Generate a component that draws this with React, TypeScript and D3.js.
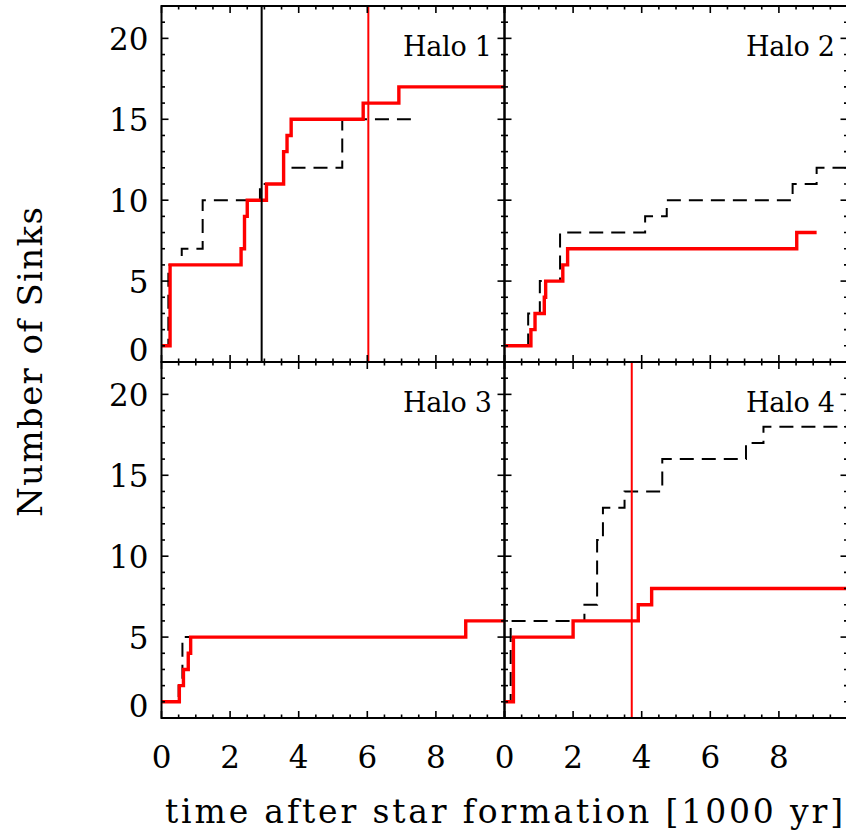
import * as d3 from 'd3';

// step data: [time in 1000 yr, number of sinks]
type Step = [number, number];

const xMajorTicks = [0, 2, 4, 6, 8, 10];
const xTickLabels = [0, 2, 4, 6, 8];
const yMajorTicks = [0, 5, 10, 15, 20];
const yTickLabels = [0, 5, 10, 15, 20];

const halo1Red: Step[] = [[0, 1], [0.25, 6], [2.32, 7], [2.42, 9], [2.5, 10], [3.06, 11], [3.56, 13], [3.66, 14], [3.78, 15], [5.88, 16], [6.92, 17], [10, 17]];
const halo1Black: Step[] = [[0, 1], [0.2, 6], [0.59, 7], [1.2, 10], [2.87, 11], [3.55, 12], [5.27, 15], [7.27, 15]];
const halo2Red: Step[] = [[0, 1], [0.77, 2], [0.89, 3], [1.16, 4], [1.2, 5], [1.7, 6], [1.84, 7], [8.52, 8], [9.1, 8]];
const halo2Black: Step[] = [[0, 1], [0.69, 3], [1.03, 5], [1.62, 8], [4.1, 9], [4.73, 10], [8.4, 11], [9.1, 12], [10, 12]];
const halo3Red: Step[] = [[0, 1], [0.52, 2], [0.64, 3], [0.78, 4], [0.85, 5], [8.87, 6], [10, 6]];
const halo3Black: Step[] = [[0, 1], [0.5, 2], [0.61, 5], [8.87, 6], [10, 6]];
const halo4Red: Step[] = [[0, 1], [0.26, 5], [2.0, 6], [3.9, 7], [4.29, 8], [10, 8]];
const halo4Black: Step[] = [[0, 1], [0.18, 6], [2.33, 7], [2.7, 11], [2.87, 13], [3.5, 14], [4.6, 16], [7.04, 17], [7.55, 18], [10, 18]];

// vertical marker lines (time)
const halo1BlackMarks = [2.92];
const halo1RedMarks = [6.03];
const halo4RedMarks = [3.71];

const halos = [
  { name: 'Halo 1', col: 0, row: 0, red: halo1Red, black: halo1Black, blackMarks: halo1BlackMarks, redMarks: halo1RedMarks },
  { name: 'Halo 2', col: 1, row: 0, red: halo2Red, black: halo2Black, blackMarks: [], redMarks: [] },
  { name: 'Halo 3', col: 0, row: 1, red: halo3Red, black: halo3Black, blackMarks: [], redMarks: [] },
  { name: 'Halo 4', col: 1, row: 1, red: halo4Red, black: halo4Black, blackMarks: [], redMarks: halo4RedMarks },
];

const W = 846;
const H = 832;
const colX = [161.5, 504.5, 847.5];
const rowY = [6, 362, 718];
const FONT = '"DejaVu Serif", "Liberation Serif", serif';

function Panel({ halo }: { halo: typeof halos[0] }) {
  const x0 = colX[halo.col];
  const x1 = colX[halo.col + 1];
  const y0 = rowY[halo.row];
  const y1 = rowY[halo.row + 1];
  const x = d3.scaleLinear().domain([0, 10]).range([x0, x1]);
  const y = d3.scaleLinear().domain([0, 22]).range([y1, y0]);
  const line = d3.line<Step>().x((d) => x(d[0])).y((d) => y(d[1])).curve(d3.curveStepAfter);

  const xMinor = d3.range(0, 10.001, 0.5).filter((v) => !xMajorTicks.includes(v));
  const yMinor = d3.range(0, 22.001, 1).filter((v) => !yMajorTicks.includes(v));
  const major = 7;
  const minor = 3.5;
  const clipId = `clip-${halo.col}-${halo.row}`;

  return (
    <g>
      <defs>
        <clipPath id={clipId}>
          <rect x={x0} y={y0 - 2} width={x1 - x0} height={y1 - y0 + 4} />
        </clipPath>
      </defs>
      <g clipPath={`url(#${clipId})`}>
        <path d={line(halo.black) ?? ''} fill="none" stroke="#000" strokeWidth={2} strokeDasharray="14,8" />
        <path d={line(halo.red) ?? ''} fill="none" stroke="#ff0000" strokeWidth={3.4} />
      </g>
      {halo.blackMarks.map((t) => (
        <line key={`b${t}`} x1={x(t)} x2={x(t)} y1={y0} y2={y1} stroke="#000" strokeWidth={2} />
      ))}
      {halo.redMarks.map((t) => (
        <line key={`r${t}`} x1={x(t)} x2={x(t)} y1={y0} y2={y1} stroke="#ff0000" strokeWidth={2} />
      ))}
      <rect x={x0} y={y0} width={x1 - x0} height={y1 - y0} fill="none" stroke="#000" strokeWidth={2} />
      <g stroke="#000" strokeWidth={1.6}>
        {xMajorTicks.map((v) => (
          <g key={`xM${v}`}>
            <line x1={x(v)} x2={x(v)} y1={y1} y2={y1 - major} />
            <line x1={x(v)} x2={x(v)} y1={y0} y2={y0 + major} />
          </g>
        ))}
        {xMinor.map((v) => (
          <g key={`xm${v}`}>
            <line x1={x(v)} x2={x(v)} y1={y1} y2={y1 - minor} />
            <line x1={x(v)} x2={x(v)} y1={y0} y2={y0 + minor} />
          </g>
        ))}
        {yMajorTicks.map((v) => (
          <g key={`yM${v}`}>
            <line x1={x0} x2={x0 + major} y1={y(v)} y2={y(v)} />
            <line x1={x1} x2={x1 - major} y1={y(v)} y2={y(v)} />
          </g>
        ))}
        {yMinor.map((v) => (
          <g key={`ym${v}`}>
            <line x1={x0} x2={x0 + minor} y1={y(v)} y2={y(v)} />
            <line x1={x1} x2={x1 - minor} y1={y(v)} y2={y(v)} />
          </g>
        ))}
      </g>
      <text x={x1 - 12.5} y={y0 + 50} textAnchor="end" fontFamily={FONT} fontSize={27} textLength={89} lengthAdjust="spacing">
        {halo.name}
      </text>
      {halo.row === 1 &&
        xTickLabels.map((v) => (
          <text key={`xl${v}`} x={x(v)} y={768} textAnchor="middle" fontFamily={FONT} fontSize={31}>
            {v}
          </text>
        ))}
      {halo.col === 0 &&
        yTickLabels.map((v) => (
          <text key={`yl${v}`} x={x0 - 13} y={v === 0 ? y(v) - 1 : y(v) + 12} textAnchor="end" fontFamily={FONT} fontSize={31}>
            {v}
          </text>
        ))}
    </g>
  );
}

export default function App() {
  return (
    <svg width={W} height={H} style={{ position: 'absolute', left: 0, top: 0, background: '#fff' }}>
      <rect width={W} height={H} fill="#fff" />
      {halos.map((h) => (
        <Panel key={h.name} halo={h} />
      ))}
      <text x={165} y={823} fontFamily={FONT} fontSize={33} textLength={678} lengthAdjust="spacing">
        time after star formation [1000 yr]
      </text>
      <text transform="translate(42,362) rotate(-90)" textAnchor="middle" fontFamily={FONT} fontSize={34} textLength={310} lengthAdjust="spacing">
        Number of Sinks
      </text>
    </svg>
  );
}
